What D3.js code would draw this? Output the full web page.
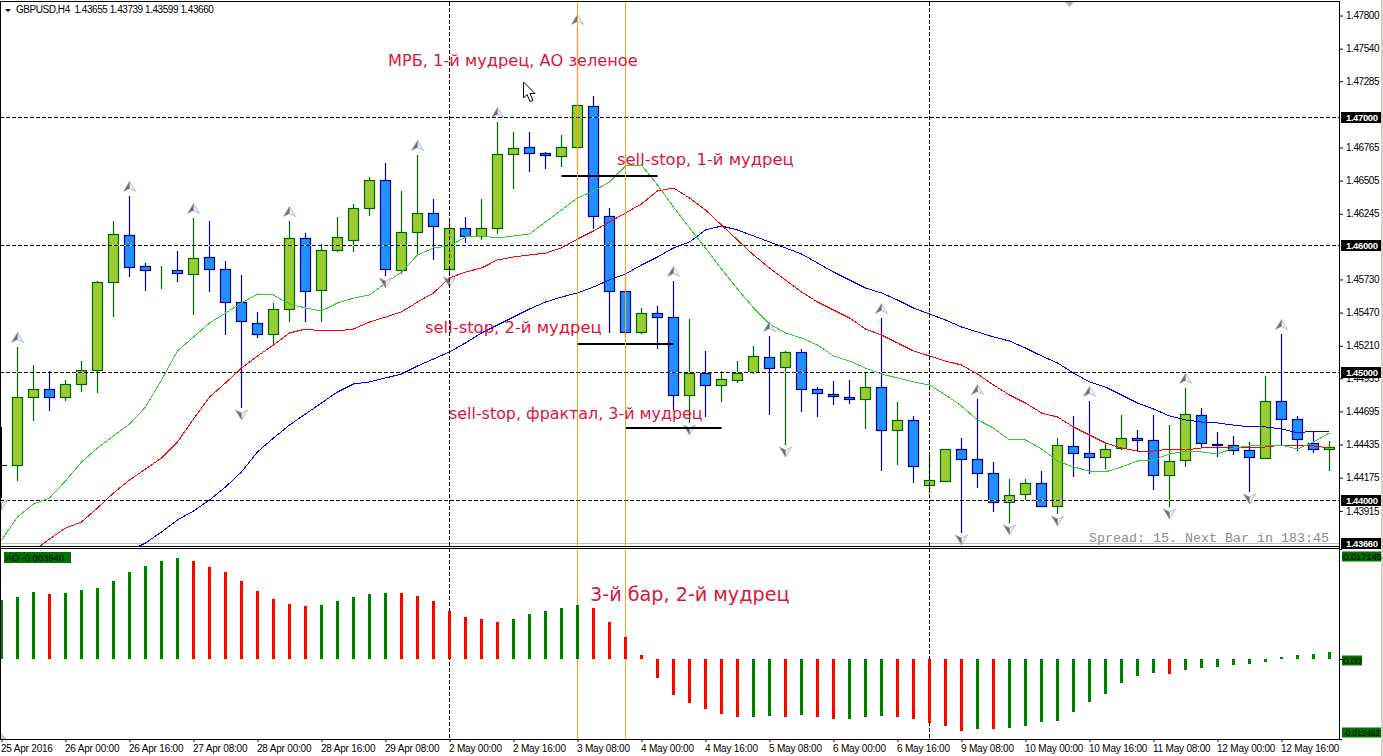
<!DOCTYPE html>
<html>
<head>
<meta charset="utf-8">
<script src="https://cdn.jsdelivr.net/npm/d3@7"></script>
<style>
  html, body { margin: 0; padding: 0; background: #fff; }
  svg { display: block; }
  text { font-family: "Liberation Sans", sans-serif; font-size: 9.7px; fill: #000; white-space: pre; }
  .note { font-family: "DejaVu Sans", sans-serif; fill: #dc143c; }
</style>
</head>
<body>
<div id="chart"></div>
<script>
// candles, bar 1 to bar 83 (bar 0 is cut off by the left edge, see cut* below)
var open = [1.44275,1.44808,1.44871,1.44808,1.44910,1.45020,1.45710,1.46079,1.45835,1.45804,1.45804,1.45773,1.45906,1.45812,1.45553,1.45388,1.45302,1.45498,1.46055,1.45647,1.45961,1.46039,1.46290,1.46510,1.45804,1.46102,1.46251,1.45812,1.46134,1.46071,1.46134,1.46714,1.46769,1.46722,1.46698,1.46769,1.47091,1.46228,1.45639,1.45318,1.45467,1.45435,1.44824,1.44996,1.44902,1.44941,1.45004,1.45122,1.45043,1.45161,1.44871,1.44831,1.44808,1.44792,1.44886,1.44549,1.44628,1.44118,1.44149,1.44400,1.44322,1.44212,1.43984,1.44047,1.44133,1.43953,1.44424,1.44369,1.44337,1.44408,1.44486,1.44471,1.44196,1.44314,1.44667,1.44439,1.44431,1.44392,1.44329,1.44777,1.44635,1.44447,1.44400];
var high = [1.45200,1.45059,1.45012,1.44941,1.45090,1.45718,1.46188,1.46385,1.45859,1.45835,1.45953,1.46212,1.46188,1.45875,1.45765,1.45475,1.45545,1.46188,1.46094,1.46008,1.46220,1.46322,1.46534,1.46643,1.46424,1.46706,1.46361,1.46181,1.46220,1.46361,1.46965,1.46887,1.46887,1.46730,1.46863,1.47695,1.47169,1.46290,1.45765,1.45506,1.45522,1.45718,1.45420,1.45169,1.45012,1.45090,1.45208,1.45286,1.45169,1.45184,1.44886,1.44933,1.44941,1.45004,1.45428,1.44769,1.44659,1.44345,1.44400,1.44486,1.44792,1.44298,1.44165,1.44165,1.44227,1.44486,1.44659,1.44777,1.44447,1.44667,1.44549,1.44667,1.44588,1.44879,1.44722,1.44533,1.44502,1.44455,1.44973,1.45302,1.44659,1.44541,1.44463];
var low = [1.44149,1.44620,1.44698,1.44777,1.44847,1.44839,1.45435,1.45749,1.45639,1.45655,1.45710,1.45451,1.45632,1.45294,1.44722,1.45271,1.45216,1.45396,1.45396,1.45396,1.45945,1.45945,1.46228,1.45757,1.45773,1.45930,1.45883,1.45765,1.46016,1.46039,1.46087,1.46439,1.46573,1.46596,1.46612,1.46589,1.46126,1.45310,1.45279,1.45302,1.45184,1.44706,1.44604,1.44651,1.44769,1.44918,1.44988,1.44667,1.44431,1.44690,1.44651,1.44745,1.44753,1.44557,1.44227,1.44275,1.44133,1.44055,1.44149,1.43741,1.44094,1.43906,1.43820,1.43992,1.43945,1.43890,1.44180,1.44204,1.44243,1.44392,1.44384,1.44078,1.43945,1.44259,1.44408,1.44337,1.44353,1.44063,1.44322,1.44431,1.44384,1.44369,1.44227];
var close = [1.44808,1.44871,1.44808,1.44910,1.45020,1.45710,1.46087,1.45828,1.45804,1.45804,1.45781,1.45898,1.45812,1.45553,1.45404,1.45302,1.45498,1.46055,1.45639,1.45961,1.46063,1.46290,1.46510,1.45812,1.46102,1.46251,1.46149,1.46134,1.46071,1.46134,1.46714,1.46761,1.46722,1.46706,1.46769,1.47098,1.46228,1.45639,1.45318,1.45467,1.45435,1.44824,1.44996,1.44902,1.44949,1.44996,1.45130,1.45035,1.45161,1.44871,1.44839,1.44816,1.44792,1.44886,1.44549,1.44628,1.44267,1.44157,1.44400,1.44322,1.44212,1.43984,1.44039,1.44133,1.43953,1.44431,1.44369,1.44337,1.44400,1.44486,1.44471,1.44196,1.44306,1.44675,1.44447,1.44431,1.44392,1.44337,1.44777,1.44635,1.44478,1.44400,1.44416];
var cutHigh = 1.44573, cutLow = 1.44016, cutClose = 1.44275;

// alligator lines, lips from bar 0, teeth from bar 2, jaw from bar 8
var lips = [1.43686,1.43867,1.43969,1.44016,1.44149,1.44298,1.44408,1.44502,1.44596,1.44729,1.44941,1.45169,1.45279,1.45388,1.45467,1.45545,1.45616,1.45608,1.45537,1.45506,1.45483,1.45545,1.45584,1.45608,1.45702,1.45788,1.45922,1.45977,1.45992,1.46063,1.46071,1.46055,1.46071,1.46087,1.46181,1.46275,1.46369,1.46424,1.46494,1.46620,1.46628,1.46471,1.46298,1.46134,1.45977,1.45812,1.45655,1.45506,1.45381,1.45310,1.45271,1.45216,1.45130,1.45090,1.45035,1.44988,1.44957,1.44926,1.44902,1.44824,1.44737,1.44628,1.44565,1.44471,1.44471,1.44400,1.44306,1.44259,1.44227,1.44220,1.44259,1.44306,1.44314,1.44361,1.44384,1.44377,1.44361,1.44408,1.44424,1.44431,1.44431,1.44400,1.44455,1.44526];
var teeth = [1.43600,1.43694,1.43780,1.43827,1.43937,1.44055,1.44157,1.44243,1.44329,1.44455,1.44635,1.44808,1.44918,1.45035,1.45130,1.45216,1.45310,1.45341,1.45326,1.45326,1.45341,1.45396,1.45435,1.45475,1.45553,1.45624,1.45741,1.45788,1.45820,1.45883,1.45906,1.45922,1.45937,1.45977,1.46047,1.46110,1.46181,1.46251,1.46322,1.46424,1.46447,1.46369,1.46275,1.46157,1.46039,1.45922,1.45820,1.45726,1.45632,1.45553,1.45490,1.45428,1.45341,1.45294,1.45232,1.45169,1.45130,1.45090,1.45059,1.44988,1.44902,1.44824,1.44761,1.44682,1.44651,1.44573,1.44510,1.44447,1.44408,1.44384,1.44384,1.44400,1.44392,1.44408,1.44416,1.44408,1.44408,1.44416,1.44431,1.44431,1.44424,1.44408];
var jaw = [1.43600,1.43663,1.43749,1.43843,1.43914,1.44000,1.44102,1.44220,1.44377,1.44486,1.44588,1.44675,1.44761,1.44847,1.44910,1.44926,1.44957,1.44988,1.45051,1.45106,1.45161,1.45232,1.45310,1.45373,1.45435,1.45498,1.45553,1.45592,1.45624,1.45671,1.45726,1.45773,1.45843,1.45906,1.45977,1.46024,1.46118,1.46149,1.46118,1.46071,1.46024,1.45977,1.45930,1.45859,1.45788,1.45726,1.45663,1.45624,1.45569,1.45506,1.45459,1.45412,1.45357,1.45318,1.45279,1.45247,1.45192,1.45130,1.45075,1.44996,1.44926,1.44886,1.44824,1.44761,1.44714,1.44659,1.44628,1.44612,1.44604,1.44588,1.44573,1.44573,1.44557,1.44526,1.44541,1.44533];

// bars with a fractal arrow
var fractalUp = [1,8,12,18,26,31,36,42,48,55,61,68,74,80];
var fractalDown = [0,15,24,28,43,49,60,63,66,73,78];

// awesome oscillator, bar 0 to bar 83, G rising / R falling
var ao = [0.00920,0.00966,0.01044,0.01013,0.01029,0.01075,0.01107,0.01216,0.01356,0.01449,0.01527,0.01574,0.01527,0.01434,0.01356,0.01216,0.01060,0.00935,0.00857,0.00826,0.00842,0.00904,0.00966,0.01013,0.01029,0.01029,0.00982,0.00904,0.00748,0.00655,0.00623,0.00577,0.00623,0.00701,0.00748,0.00795,0.00842,0.00795,0.00577,0.00343,0.00062,-0.00291,-0.00561,-0.00686,-0.00779,-0.00857,-0.00904,-0.00904,-0.00888,-0.00904,-0.00873,-0.00904,-0.00935,-0.00935,-0.00904,-0.00888,-0.00904,-0.00935,-0.00997,-0.01044,-0.01122,-0.01091,-0.01091,-0.01075,-0.01044,-0.00982,-0.00966,-0.00826,-0.00670,-0.00545,-0.00374,-0.00265,-0.00218,-0.00234,-0.00171,-0.00140,-0.00125,-0.00094,-0.00078,-0.00047,0.00031,0.00062,0.00078,0.00109];
var aoColors = "GGGRGGGGGGGGRRRRRRRRGGGGGRRRRRRRGGGGGRRRRRRRRRRGGRGRRGGGRRRRRGRGGGGGGGGGGRGGGGGGGGGG";

// axis labels
var timeLabels = ["25 Apr 2016","26 Apr 00:00","26 Apr 16:00","27 Apr 08:00","28 Apr 00:00","28 Apr 16:00","29 Apr 08:00","2 May 00:00","2 May 16:00","3 May 08:00","4 May 00:00","4 May 16:00","5 May 08:00","6 May 00:00","6 May 16:00","9 May 08:00","10 May 00:00","10 May 16:00","11 May 08:00","12 May 00:00","12 May 16:00"];
var priceTicks = [1.478,1.4754,1.47285,1.46765,1.46505,1.46245,1.4573,1.4547,1.4521,1.44955,1.44695,1.44435,1.44175,1.43915];
var levels = [1.47,1.46,1.45,1.44];
var bid = 1.4366;

// drawn objects on the chart
var dashedBars = [28,58];
var orangeBars = [36,39];
var stopLines = [[35,41,1.46541],[36,42,1.45224],[39,45,1.44565]];

var width = 1383, height = 756;
var svg = d3.select("#chart").append("svg").attr("width", width).attr("height", height);

var x = d3.scaleLinear().domain([0, 83]).range([1.5, 1329.5]);
var y = d3.scaleLinear().domain([1.44, 1.478]).range([500, 500 - 0.038 * 12749]);
var yAo = d3.scaleLinear().domain([-0.012462, 0.017145]).range([739, 549]);

function snap(v) { return Math.round(v) + 0.5; }

svg.append("clipPath").attr("id", "plot").append("rect")
  .attr("x", 0).attr("y", 2).attr("width", 1339).attr("height", 544);

var main = svg.append("g").attr("clip-path", "url(#plot)");

// bid line and the vertical lines that run through both panes
main.append("line")
  .attr("x1", 0).attr("x2", 1339)
  .attr("y1", Math.floor(y(bid)) + 0.5).attr("y2", Math.floor(y(bid)) + 0.5)
  .style("stroke", "#c0c0c0");

svg.selectAll(".vdash").data(dashedBars).enter().append("line")
  .attr("x1", function(d) { return Math.floor(x(d)) + 0.5; })
  .attr("x2", function(d) { return Math.floor(x(d)) + 0.5; })
  .attr("y1", 2).attr("y2", 739)
  .style("stroke", "#000").style("stroke-dasharray", "4,2");

svg.selectAll(".vorange").data(orangeBars).enter().append("line")
  .attr("x1", function(d) { return Math.floor(x(d)) + 0.5; })
  .attr("x2", function(d) { return Math.floor(x(d)) + 0.5; })
  .attr("y1", 2).attr("y2", 739)
  .style("stroke", "#f5a623");

// candles
var candles = d3.range(open.length).map(function(i) {
  return { bar: i + 1, o: open[i], h: high[i], l: low[i], c: close[i], up: close[i] >= open[i] };
});

var candle = main.selectAll(".candle").data(candles).enter().append("g").attr("class", "candle");

candle.append("line")
  .attr("x1", function(d) { return Math.floor(x(d.bar)) + 0.5; })
  .attr("x2", function(d) { return Math.floor(x(d.bar)) + 0.5; })
  .attr("y1", function(d) { return Math.round(y(d.h)); })
  .attr("y2", function(d) { return Math.round(y(d.l)); })
  .style("stroke", function(d) { return d.up ? "#006400" : "#00008b"; })
  .style("stroke-width", 1.2);

candle.append("rect")
  .attr("x", function(d) { return Math.floor(x(d.bar)) + 0.5 - 5; })
  .attr("width", 10)
  .attr("y", function(d) { return snap(y(Math.max(d.o, d.c))); })
  .attr("height", function(d) { return snap(y(Math.min(d.o, d.c))) - snap(y(Math.max(d.o, d.c))); })
  .style("fill", function(d) { return d.up ? "#9acd32" : "#1e90ff"; })
  .style("stroke", function(d) { return d.up ? "#006400" : "#00008b"; })
  .style("stroke-width", 1.2);

// bar 0, only its right edge shows
main.append("rect").attr("x", 0).attr("width", 2)
  .attr("y", y(cutHigh)).attr("height", y(cutLow) - y(cutHigh)).style("fill", "#000");
main.append("line").attr("x1", 2).attr("x2", 7)
  .attr("y1", snap(y(cutClose))).attr("y2", snap(y(cutClose))).style("stroke", "#000");

// round price levels, gaps show white over the candles
levels.forEach(function(p) {
  var py = Math.floor(y(p)) + 0.5;
  main.append("line").attr("x1", 0).attr("x2", 1339).attr("y1", py).attr("y2", py)
    .style("stroke", "#fff");
  main.append("line").attr("x1", 0).attr("x2", 1339).attr("y1", py).attr("y2", py)
    .style("stroke", "#000").style("stroke-dasharray", "4,2");
});

// alligator
function drawLine(values, firstBar, color) {
  var line = d3.line()
    .x(function(d, i) { return x(firstBar + i); })
    .y(function(d) { return y(d); });
  main.append("path").attr("d", line(values))
    .style("fill", "none").style("stroke", color).style("stroke-width", 1)
    .style("shape-rendering", "crispEdges");
}
drawLine(jaw, 8, "#0000ff");
drawLine(teeth, 2, "#ff0000");
drawLine(lips, 0, "#32cd32");

// fractal arrows, dark left half and pale right half
function drawArrow(px, py, dir) {
  var g = main.append("g").attr("transform", "translate(" + px + "," + py + ") scale(1," + dir + ")");
  g.append("path").attr("d", "M0,-5 L6,5 L0,2 Z")
    .style("fill", "#eef0f4").style("stroke", "#a4aec0").style("stroke-width", 0.8);
  g.append("path").attr("d", "M0,-5 L-6,5 L0,2 Z")
    .style("fill", "#6f6f6f").style("stroke", "#a0a0a0").style("stroke-width", 0.6);
}
fractalUp.forEach(function(b) {
  drawArrow(x(b), y(high[b - 1]) - 9.5, 1);
});
fractalDown.forEach(function(b) {
  var l = b == 0 ? cutLow : low[b - 1];
  drawArrow(x(b), y(l) + 7, -1);
});

// mark cut off by the top edge
main.append("path").attr("d", d3.line()([[x(66.75) - 4.5, 2], [x(66.75) + 4.5, 2], [x(66.75), 7]]) + "Z")
  .style("fill", "#b4b4b4");

// sell-stop lines
main.selectAll(".stop").data(stopLines).enter().append("line")
  .attr("x1", function(d) { return x(d[0]); })
  .attr("x2", function(d) { return x(d[1]); })
  .attr("y1", function(d) { return Math.round(y(d[2])); })
  .attr("y2", function(d) { return Math.round(y(d[2])); })
  .style("stroke", "#000").style("stroke-width", 2);

// mouse pointer
svg.append("path")
  .attr("transform", "translate(523.5,82)")
  .attr("d", "M0,0 L0,16 L3.5,12.5 L6.5,19.5 L9.5,18.5 L6.5,11.5 L11.5,11.5 Z")
  .style("fill", "#fff").style("stroke", "#000").style("stroke-width", 1);

// AO histogram
var aoBars = ao.map(function(v, i) { return { bar: i, v: v, color: aoColors[i] }; });
svg.selectAll(".ao").data(aoBars).enter().append("rect")
  .attr("x", function(d) { return Math.floor(x(d.bar)) - 1; })
  .attr("width", 3)
  .attr("y", function(d) { return Math.round(yAo(Math.max(d.v, 0))); })
  .attr("height", function(d) { return Math.abs(Math.round(yAo(d.v)) - Math.round(yAo(0))); })
  .style("fill", function(d) { return d.color == "G" ? "#008000" : "#ff0000"; });

// frame
function frame(x1, y1, x2, y2) {
  svg.append("line").attr("x1", x1).attr("y1", y1).attr("x2", x2).attr("y2", y2)
    .style("stroke", "#000");
}
frame(0, 1.5, 1339, 1.5);
frame(0.5, 1, 0.5, 739);
frame(1339.5, 1, 1339.5, 740);
frame(0, 546.5, 1339, 546.5);
frame(0, 548.5, 1339, 548.5);
frame(0, 739.5, 1339, 739.5);
svg.append("path").attr("d", "M1,733 L7,739 L1,739 Z").style("fill", "#c8c8c8");
svg.append("rect").attr("x", 1381).attr("y", 0).attr("width", 2).attr("height", height).style("fill", "#d4d0c8");

// price axis
var priceAxis = svg.append("g")
  .attr("transform", "translate(1340,0)")
  .call(d3.axisRight(y).tickValues(priceTicks).tickFormat(d3.format(".5f")).tickSize(3).tickPadding(3));
priceAxis.select(".domain").remove();
priceAxis.selectAll("text")
  .style("font-family", "Liberation Sans").style("font-size", "10px").style("letter-spacing", "-0.45px");

// time axis, labels start at their tick
var timeAxis = svg.append("g")
  .attr("transform", "translate(0,740)")
  .call(d3.axisBottom(x)
    .tickValues(timeLabels.map(function(d, i) { return i * 4; }))
    .tickFormat(function(d) { return timeLabels[d / 4]; })
    .tickSize(2).tickPadding(3));
timeAxis.select(".domain").remove();
timeAxis.selectAll("text")
  .style("text-anchor", "start").style("font-family", "Liberation Sans").style("font-size", "10px")
  .style("letter-spacing", "-0.2px").attr("dx", -1);

// black boxes on round levels and the bid
levels.concat([bid]).forEach(function(p) {
  var py = Math.floor(y(p)) + 0.5;
  if (p == bid) py = 543.5;
  svg.append("rect").attr("x", 1341).attr("y", py - 5.5).attr("width", 40).attr("height", 11).style("fill", "#000");
  svg.append("text").attr("x", 1346).attr("y", py + 3.5).text(p.toFixed(5))
    .style("fill", "#fff").style("font-weight", "bold").style("font-size", "9.5px").style("letter-spacing", "-0.4px");
});

// AO scale boxes
[[0.017145, 556.5, 39, "9.7px"], [0, 660.5, 20, "9.7px"], [-0.012462, 732.5, 39, "8.6px"]].forEach(function(d) {
  svg.append("line").attr("x1", 1340).attr("x2", 1342).attr("y1", Math.round(yAo(d[0])) + 0.5).attr("y2", Math.round(yAo(d[0])) + 0.5)
    .style("stroke", "#000");
  svg.append("rect").attr("x", 1342).attr("y", d[1] - 5).attr("width", d[2]).attr("height", 10).style("fill", "#007000");
  svg.append("text").attr("x", 1343).attr("y", d[1] + 3.5)
    .text(d[0] == 0 ? "0.00" : d[0].toFixed(6)).style("font-size", d[3]).style("letter-spacing", "-0.2px");
});

// titles
svg.append("path").attr("d", "M5,9 L11,9 L8,12 Z").style("fill", "#000");
svg.append("text").attr("x", 16).attr("y", 13).text("GBPUSD,H4  1.43655 1.43739 1.43599 1.43660")
  .style("font-size", "10px").style("letter-spacing", "-0.45px");
svg.append("rect").attr("x", 4).attr("y", 552).attr("width", 67).attr("height", 11).style("fill", "#007000");
svg.append("text").attr("x", 5.5).attr("y", 561).text("AO -0.003940").style("letter-spacing", "-0.15px");
svg.append("text").attr("x", 1089).attr("y", 542).text("Spread: 15. Next Bar in 183:45")
  .style("font-family", "Liberation Mono").style("font-size", "13.33px").style("fill", "#8c8c8c");

// notes
var noteText = ["МРБ, 1-й мудрец, АО зеленое","sell-stop, 1-й мудрец","sell-stop, 2-й мудрец","sell-stop, фрактал, 3-й мудрец","3-й бар, 2-й мудрец"];
var noteX = [388, 617, 425, 449, 590];
var noteY = [66, 165, 333, 419, 601];
var noteSize = [16.2, 16.4, 16.4, 15.9, 19.2];
noteText.forEach(function(t, i) {
  svg.append("text").attr("class", "note")
    .attr("x", noteX[i]).attr("y", noteY[i])
    .style("font-size", noteSize[i] + "px").text(t);
});
</script>
</body>
</html>
